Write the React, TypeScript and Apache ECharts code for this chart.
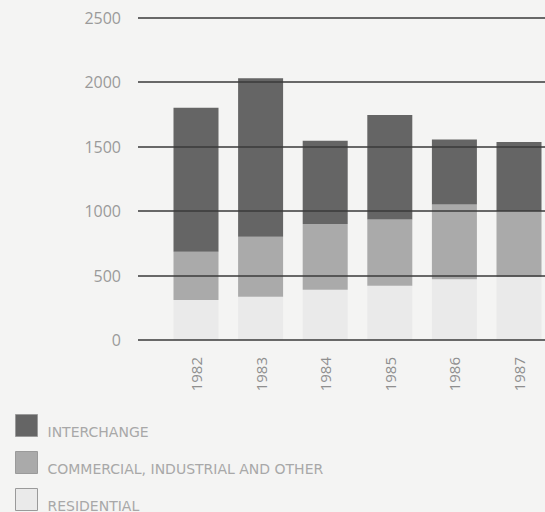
import React, { useEffect, useRef } from "react";
import * as echarts from "echarts";

const years = ["1982", "1983", "1984", "1985", "1986", "1987"];
const residential = [310, 335, 390, 420, 470, 490];
const commercial = [375, 465, 510, 515, 580, 510];
const interchange = [1115, 1230, 645, 810, 505, 535];
const seriesNames = ["INTERCHANGE", "COMMERCIAL, INDUSTRIAL AND OTHER", "RESIDENTIAL"];

export default function App() {
  const ref = useRef<HTMLDivElement>(null);
  useEffect(() => {
    if (!ref.current) return;
    const chart = echarts.init(ref.current, null, { renderer: "svg" });
    const font = "'Open Sans', 'DejaVu Sans', sans-serif";
    chart.setOption({
      animation: false,
      backgroundColor: "#f4f4f3",
      textStyle: { fontFamily: font },
      grid: [
        { left: 196, right: 26, top: 17.5, bottom: 172 },
        { left: 138, right: 0, top: 17.5, bottom: 172 },
      ],
      legend: {
        orient: "vertical",
        left: 15,
        top: 414,
        padding: 0,
        height: 130,
        itemWidth: 22,
        itemHeight: 34,
        itemGap: 2,
        icon: "path://M0,0 L22,0 L22,22 L0,22 Z M0,34 L0.01,34",
        data: seriesNames,
        itemStyle: { borderColor: "#9a9a9a", borderWidth: 1 },
        textStyle: {
          color: "#a8a8a8",
          fontSize: 14,
          fontFamily: "'DejaVu Sans', sans-serif",
          padding: [0, 0, 0, 5],
        },
        selectedMode: false,
      },
      xAxis: [
        {
          type: "category",
          gridIndex: 0,
          data: years,
          boundaryGap: false,
          axisLine: { show: false },
          axisTick: { show: false },
          axisLabel: {
            rotate: 90,
            margin: 17,
            color: "#8f8f8f",
            fontSize: 15,
          },
        },
        { type: "value", gridIndex: 1, show: false, min: 0, max: 1 },
      ],
      yAxis: [
        {
          type: "value",
          gridIndex: 0,
          min: 0,
          max: 2500,
          interval: 500,
          show: false,
        },
        {
          type: "value",
          gridIndex: 1,
          min: 0,
          max: 2500,
          interval: 500,
          z: 10,
          splitLine: { show: true, lineStyle: { color: "#3a3a3a", width: 1.5 } },
          axisLine: { show: false },
          axisTick: { show: false },
          axisLabel: { color: "#9a9a9a", fontSize: 16, margin: 17, formatter: (v: number) => String(v) },
        },
      ],
      series: [
        {
          name: "RESIDENTIAL",
          type: "bar",
          stack: "total",
          barWidth: 45,
          data: residential,
          itemStyle: { color: "#eaeaea" },
        },
        {
          name: "COMMERCIAL, INDUSTRIAL AND OTHER",
          type: "bar",
          stack: "total",
          barWidth: 45,
          data: commercial,
          itemStyle: { color: "#aaaaaa" },
        },
        {
          name: "INTERCHANGE",
          type: "bar",
          stack: "total",
          barWidth: 45,
          data: interchange,
          itemStyle: { color: "#656565" },
        },
      ],
    });
    return () => chart.dispose();
  }, []);
  return (
    <div
      ref={ref}
      style={{ position: "absolute", left: 0, top: 0, width: 545, height: 512 }}
    />
  );
}
